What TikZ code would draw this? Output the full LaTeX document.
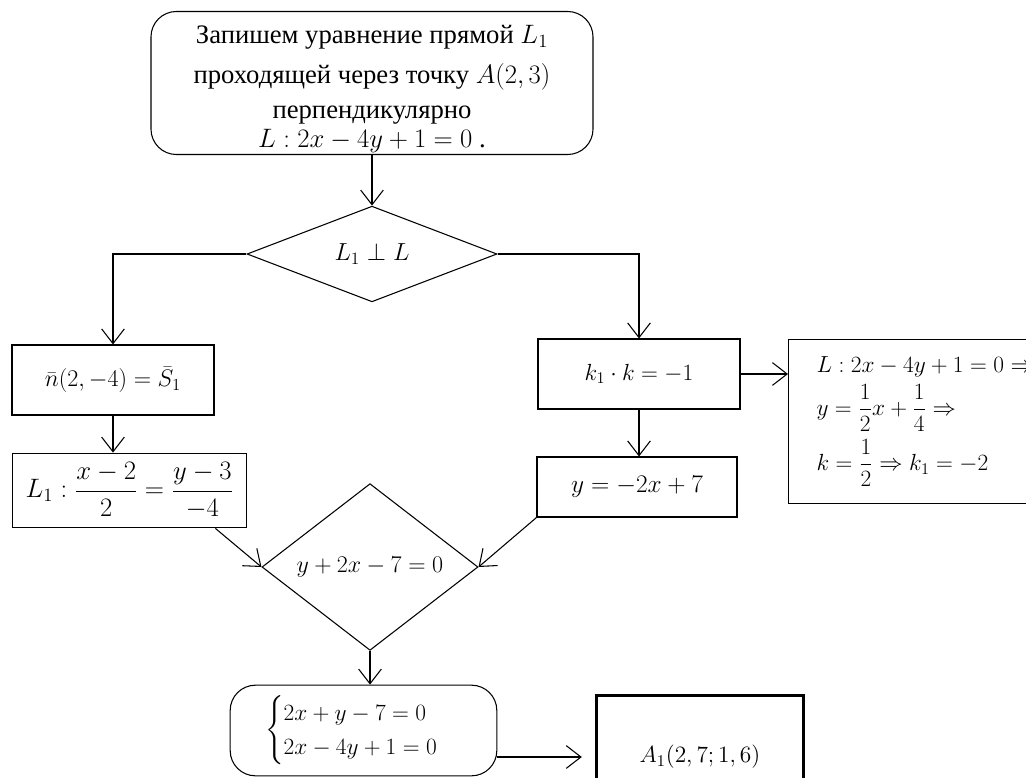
\RequirePackage{fix-cm}
\documentclass[tikz,border=0pt]{standalone}
\usepackage{amsmath}
\usepackage{fontspec}
\setmainfont{Liberation Serif}
\usetikzlibrary{shapes.geometric,arrows.meta,calc}
\begin{document}
\begin{tikzpicture}[
    x=0.75pt, y=-0.75pt,
    font=\fontsize{17.5}{21}\selectfont,
    blk/.style={draw=black, line width=0.8pt, inner sep=2pt},
    rnd/.style={blk, rounded corners=19pt},
    dec/.style={draw=black, line width=0.8pt, diamond, inner sep=0pt},
    arr/.style={line width=0.8pt, -{Straight Barb[length=11pt, width=17pt]}}
]
\clip (0,0) rectangle (1026,778);
\useasboundingbox (0,0) rectangle (1026,778);

\node[rnd, minimum width=331.5pt, minimum height=107.25pt, inner ysep=0pt, align=center,
      font=\fontsize{20}{25}\selectfont] (top) at (372,83)
    {\rule{0pt}{23pt}Запишем уравнение прямой $L_1$\\[5pt]
     проходящей через точку $A(2,3)$\\[1pt]
     перпендикулярно\\[-3pt]
     $L: 2x-4y+1=0$ .};
\node[dec, minimum width=187.5pt, minimum height=70pt, font=\fontsize{18.5}{22}\selectfont] (d1) at (372,254)
    {$L_1 \perp L$};

\node[blk, minimum width=151.5pt, minimum height=52.5pt, font=\fontsize{18}{22}\selectfont] (nv) at (113,380)
    {$\bar{n}(2,-4)=\bar{S}_1$};
\node[blk, minimum width=176pt, minimum height=56pt, font=\fontsize{20}{24}\selectfont] (l1) at (129.5,490.5)
    {$L_1: \dfrac{x-2}{2}=\dfrac{y-3}{-4}$};
\node[blk, minimum width=151.5pt, minimum height=52.5pt] (kk) at (639,374) {$k_1\cdot k=-1$};
\node[blk, minimum width=150pt, minimum height=45pt, font=\fontsize{19}{23}\selectfont] (yl) at (637,487) {$y=-2x+7$};
\node[blk, anchor=north west, minimum height=123pt, text width=250pt, align=left, inner xsep=21pt] (sl) at (788,339)
    {$L: 2x-4y+1=0 \Rightarrow$\\[5pt]
     $y=\dfrac{1}{2}x+\dfrac{1}{4} \Rightarrow$\\[5pt]
     $k=\dfrac{1}{2} \Rightarrow k_1=-2$};

\node[dec, minimum width=162pt, minimum height=94.5pt, font=\fontsize{18}{22}\selectfont] (d2) at (370,567)
    {$y+2x-7=0$};
\node[rnd, minimum width=200pt, minimum height=68pt] (sys) at (363.5,730.5)
    {$\begin{cases} 2x+y-7=0\\ 2x-4y+1=0 \end{cases}$};
\node[blk, line width=2.25pt, minimum width=155pt, minimum height=93pt, font=\fontsize{14.5}{18}\selectfont] (res) at (700,757)
    {\scalebox{1.21}{$A_1(2,7;1,6)$}};
\coordinate (mid) at (0,757);

% connectors
\draw[arr] (top) -- (d1);
\draw[arr] (d1.west) -| (nv.north);
\draw[arr] (d1.east) -| (kk.north);
\draw[arr] (nv) -- (nv.south |- l1.north);
\draw[arr] ($(l1.south east)+(-32,0)$) -- (d2.west);
\draw[arr] (kk) -- (kk.south |- yl.north);
\draw[arr] (kk.east) -- (sl.west |- kk.east);
\draw[arr] (yl.south west) -- (d2.east);
\draw[arr] (d2) -- (d2.south |- sys.north);
\draw[arr, shorten >=10pt] (sys.east |- mid) -- (res.west |- mid);
\end{tikzpicture}
\end{document}
